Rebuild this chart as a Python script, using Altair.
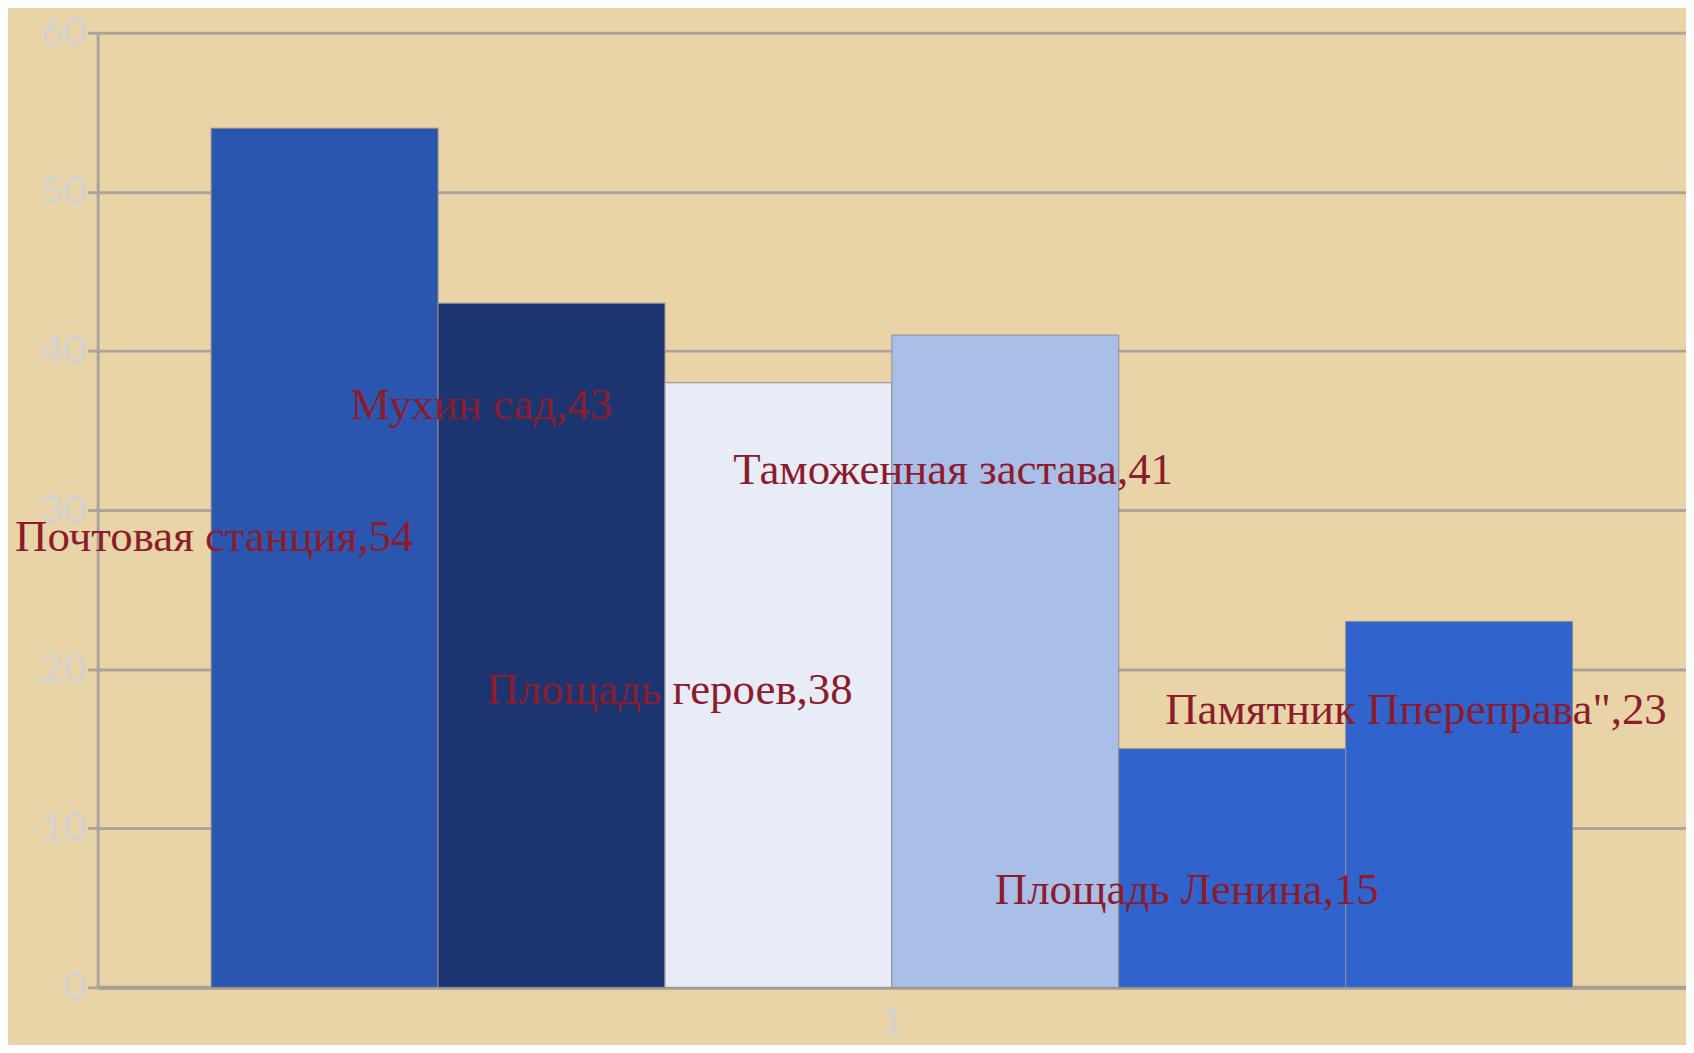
import altair as alt
import pandas as pd

# Data
names = ["Почтовая станция", "Мухин сад", "Площадь героев", "Таможенная застава",
         "Площадь Ленина", "Памятник Ппереправа\""]
values = [54, 43, 38, 41, 15, 23]
slots = [0, 1, 2, 3, 4, 5]
colors = ["#2a56b0", "#1c3570", "#e8ecf7", "#aabfe8", "#3063cc", "#3063cc"]
# where Excel placed each data label (slot units along x, value units along y)
label_x = [0.014, 1.19, 2.02, 3.27, 4.30, 5.31]
label_y = [28.3, 36.6, 18.7, 32.5, 6.1, 17.4]
category = "1"

df = pd.DataFrame({
    "name": names,
    "value": values,
    "start": slots,
    "end": [s + 1 for s in slots],
    "label": [f"{n},{v}" for n, v in zip(names, values)],
    "lx": label_x,
    "ly": label_y,
})

xscale = alt.Scale(domain=[-0.5, 6.5], nice=False, zero=False)
yscale = alt.Scale(domain=[0, 60], nice=False)

bars = alt.Chart(df).mark_bar(stroke="#8f8f8f", strokeWidth=1).encode(
    x=alt.X("start:Q", scale=xscale,
            axis=alt.Axis(values=[3], labelExpr=f"'{category}'", title=None,
                          ticks=False, grid=False, domainColor="#a69f92",
                          domainWidth=4, labelFont="Lato", labelFontSize=36,
                          labelColor="#d2d2d2", labelPadding=17)),
    x2="end:Q",
    y=alt.Y("value:Q", scale=yscale,
            axis=alt.Axis(values=[0, 10, 20, 30, 40, 50, 60], title=None,
                          grid=True, gridColor="#aaa59c", gridWidth=3,
                          domainColor="#aaa59c", domainWidth=3,
                          tickColor="#aaa59c", tickWidth=3, tickSize=10,
                          labelFont="Lato", labelFontSize=39,
                          labelColor="#d2d2d2", labelPadding=2)),
    y2=alt.datum(0),
    color=alt.Color("name:N", scale=alt.Scale(domain=names, range=colors), legend=None),
)

labels = alt.Chart(df).mark_text(
    font="Liberation Serif", fontSize=45, color="#8c1c2c", align="center", baseline="middle"
).encode(
    x=alt.X("lx:Q", scale=xscale),
    y=alt.Y("ly:Q", scale=yscale),
    text="label:N",
)

chart = alt.layer(bars, labels).properties(
    width=1594, height=958,
    background="#e8d4a6",
    padding={"left": 90, "top": 23, "right": 0, "bottom": 56},
    autosize=alt.AutoSizeParams(type="none"),
).configure_view(stroke=None)

chart.save("out.html", embed_options={"renderer": "svg", "actions": False})
